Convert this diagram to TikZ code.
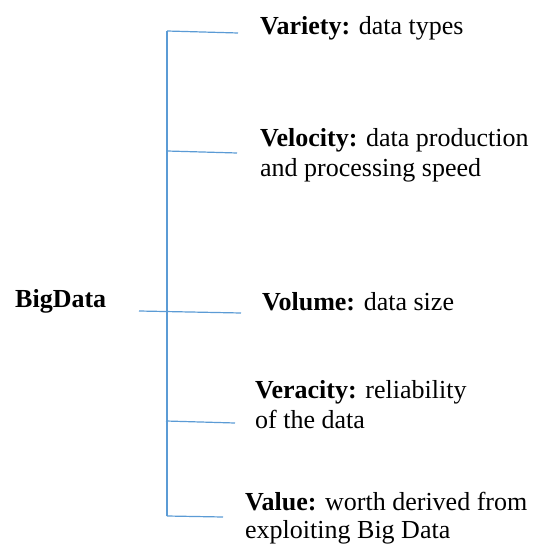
\documentclass[tikz,border=0pt]{standalone}
\usepackage{fontspec}
\setmainfont{Liberation Serif}
\definecolor{linkblue}{HTML}{5B9BD5}
\begin{document}
\begin{tikzpicture}[x=1bp,y=-1bp,
  branch/.style={draw=linkblue,line width=1.2bp},
  label/.style={anchor=base west,inner sep=0pt,align=left,font=\fontsize{26bp}{30bp}\selectfont}]
\useasboundingbox (0,0) rectangle (537,545);
% spine and branch coordinates
\coordinate (top) at (167,31);
\coordinate (bot) at (167,516);
\coordinate (a1) at (167,31);   \coordinate (b1) at (238,33);
\coordinate (a2) at (167,151);  \coordinate (b2) at (237,153);
\coordinate (a3) at (139,311);  \coordinate (b3) at (241,313);
\coordinate (a4) at (166,421);  \coordinate (b4) at (235,423);
\coordinate (a5) at (167,516);  \coordinate (b5) at (223,517);
\draw[branch] (top) -- (bot);
\draw[branch] (a1) -- (b1);
\draw[branch] (a2) -- (b2);
\draw[branch] (a3) -- (b3);
\draw[branch] (a4) -- (b4);
\draw[branch] (a5) -- (b5);
% labels (base anchor of multi-line nodes = last line)
\node[label] (root) at (15,307) {\textbf{BigData}};
\node[label] (variety) at (260,35) {\textbf{Variety:} data types};
\node[label] (velocity) at (260,177) {\textbf{Velocity:} data production\\and processing speed};
\node[label] (volume) at (262,310) {\textbf{Volume:} data size};
\node[label] (veracity) at (255,428) {\textbf{Veracity:} reliability\\of the data};
\node[label] (value) at (245,538) {\textbf{Value:} worth derived from\\[-2bp]exploiting Big Data};
\end{tikzpicture}
\end{document}
